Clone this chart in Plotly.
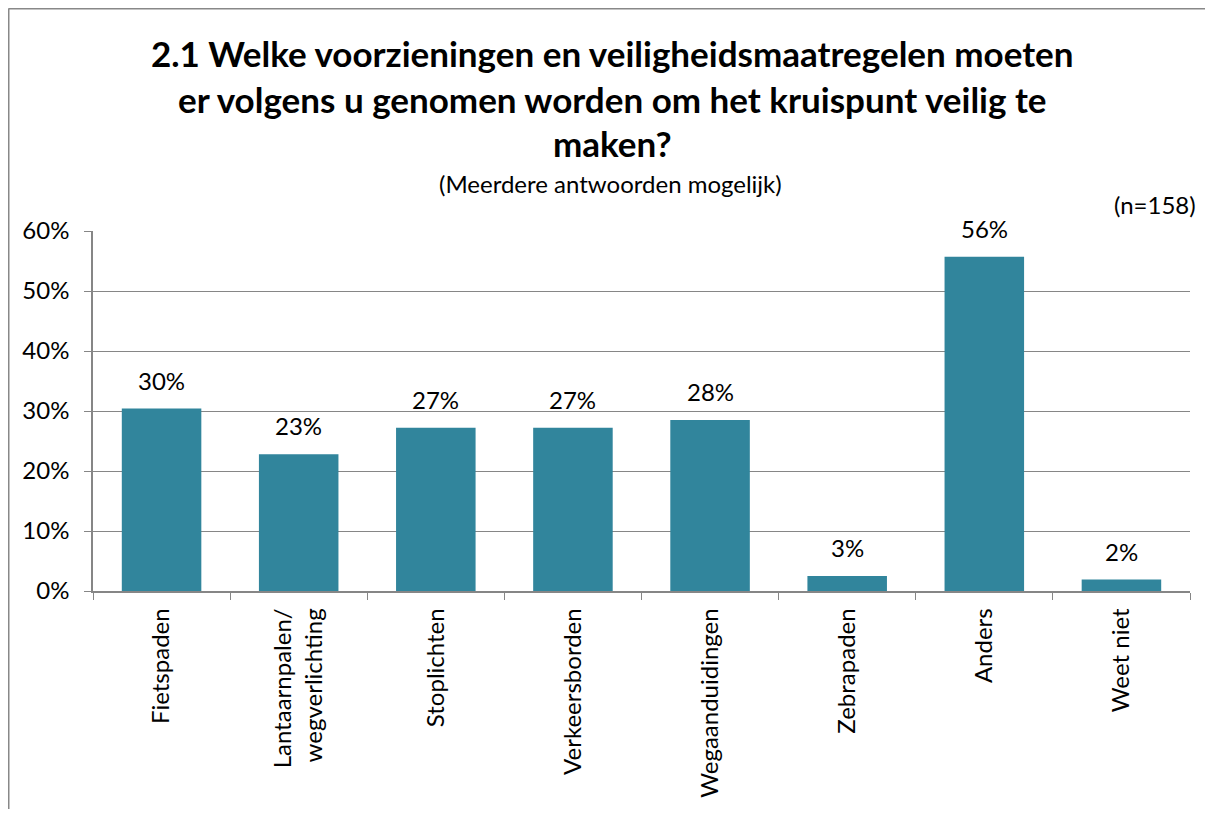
import plotly.graph_objects as go

categories = ["Fietspaden", "Lantaarnpalen/<br>wegverlichting", "Stoplichten", "Verkeersborden",
              "Wegaanduidingen", "Zebrapaden", "Anders", "Weet niet"]
values = [30.4, 22.8, 27.2, 27.2, 28.5, 2.5, 55.7, 1.9]
labels = ["30%", "23%", "27%", "27%", "28%", "3%", "56%", "2%"]
y_ticks = [0, 10, 20, 30, 40, 50, 60]
y_tick_labels = ["0%", "10%", "20%", "30%", "40%", "50%", "60%"]

FONT = "Lato, Open Sans, sans-serif"
FS = 24
OFF = 8  # page body margin
W, H = 1213 - 2 * OFF, 817 - 2 * OFF
L = 93 - OFF
T = 231 - OFF
R = W - (1190 - OFF)
B = H - (591 - OFF)
pw, ph = W - L - R, H - T - B

def px(x):
    return (x - OFF - L) / pw

def py(y):
    return (H - B - (y - OFF)) / ph

fig = go.Figure(go.Bar(
    x=categories, y=values,
    marker=dict(color="#31859C", line=dict(width=0)),
    width=0.58, hoverinfo="x+y",
))

for c, v, t in zip(categories, values, labels):
    fig.add_annotation(x=c, y=v, text=t, showarrow=False, yanchor="bottom", yshift=12,
                       font=dict(size=FS, color="black", family=FONT))

frame = dict(color="#888888", width=2)
fig.update_layout(
    width=W, height=H,
    margin=dict(l=L, r=R, t=T, b=B),
    paper_bgcolor="white", plot_bgcolor="white",
    font=dict(family=FONT, size=FS, color="black"),
    showlegend=False,
    xaxis=dict(showline=True, linecolor="#868686", linewidth=1.5,
               ticks="outside", tickson="boundaries", ticklen=7, tickcolor="#868686",
               tickangle=-90, tickfont=dict(size=FS), showgrid=False, ticklabelstandoff=6),
    yaxis=dict(range=[0, 60], tickvals=y_ticks, ticktext=y_tick_labels,
               showline=True, linecolor="#868686", linewidth=1.5,
               ticks="outside", ticklen=7, tickcolor="#868686",
               showgrid=True, gridcolor="#868686", gridwidth=1.2,
               tickfont=dict(size=FS), ticklabelstandoff=10, zeroline=False),
    shapes=[
        dict(type="line", xref="paper", yref="paper",
             x0=px(8.5), x1=px(1213), y0=py(8.5), y1=py(8.5), line=frame),
        dict(type="line", xref="paper", yref="paper",
             x0=px(8.5), x1=px(8.5), y0=py(8.5), y1=py(817), line=frame),
    ],
)

title_lines = [
    ("2.1 Welke voorzieningen en veiligheidsmaatregelen moeten", 53),
    ("er volgens u genomen worden om het kruispunt veilig te", 99),
    ("maken?", 143),
]
for txt, yc in title_lines:
    fig.add_annotation(text="<b>" + txt + "</b>", x=px(612), y=py(yc), xref="paper", yref="paper",
                       showarrow=False, xanchor="center", yanchor="middle",
                       font=dict(size=35, color="black", family=FONT))
fig.add_annotation(text="(Meerdere antwoorden mogelijk)", x=px(610), y=py(183), xref="paper", yref="paper",
                   showarrow=False, xanchor="center", yanchor="middle", font=dict(size=FS, family=FONT))
fig.add_annotation(text="(n=158)", x=px(1198), y=py(204), xref="paper", yref="paper",
                   showarrow=False, xanchor="right", yanchor="middle", font=dict(size=FS, family=FONT))

fig.write_html("out.html", config={"displayModeBar": False})
